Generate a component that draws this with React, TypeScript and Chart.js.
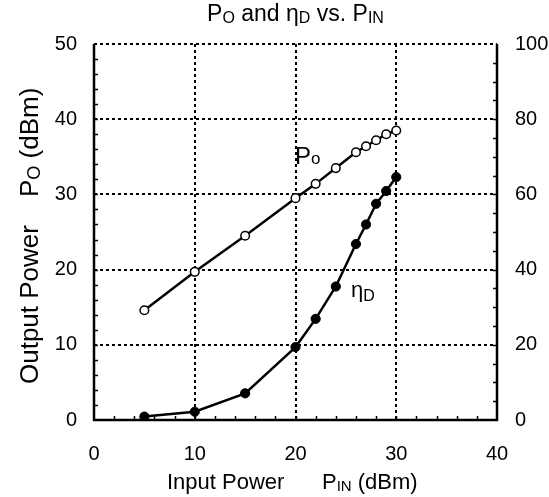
import React, { useEffect, useRef } from "react";
import { Chart, registerables } from "chart.js";

Chart.register(...registerables);

const inputPower = [5, 10, 15, 20, 22, 24, 26, 27, 28, 29, 30];
const outputPower = [14.6, 19.7, 24.5, 29.5, 31.4, 33.5, 35.6, 36.4, 37.2, 38.0, 38.5];
const drainEff = [0.9, 2.2, 7.1, 19.4, 26.9, 35.5, 46.8, 52.0, 57.5, 60.9, 64.6];

const xTicks = [0, 10, 20, 30, 40];
const yTicks = [0, 10, 20, 30, 40, 50];
const y1Ticks = [0, 20, 40, 60, 80, 100];

const FONT = '"Liberation Sans", Arial, sans-serif';

type Part = { t: string; sub?: boolean };

function richWidth(ctx: CanvasRenderingContext2D, parts: Part[], size: number, subSize: number) {
  let w = 0;
  for (const p of parts) {
    ctx.font = `${p.sub ? subSize : size}px ${FONT}`;
    w += ctx.measureText(p.t).width;
  }
  return w;
}

function drawRich(ctx: CanvasRenderingContext2D, parts: Part[], x: number, y: number, size: number, subSize: number, drop: number) {
  let cx = x;
  ctx.textAlign = "left";
  ctx.textBaseline = "alphabetic";
  for (const p of parts) {
    ctx.font = `${p.sub ? subSize : size}px ${FONT}`;
    ctx.fillText(p.t, cx, y + (p.sub ? drop : 0));
    cx += ctx.measureText(p.t).width;
  }
}

const decoPlugin = {
  id: "deco",
  beforeDatasetsDraw(chart: any) {
    const ctx: CanvasRenderingContext2D = chart.ctx;
    const { left, right, top, bottom } = chart.chartArea;
    const xs = chart.scales.x;
    const ys = chart.scales.y;
    ctx.save();
    ctx.strokeStyle = "#000";
    ctx.lineWidth = 2;
    ctx.setLineDash([3, 3]);
    for (const v of [10, 20, 30]) {
      const px = Math.round(xs.getPixelForValue(v));
      ctx.beginPath();
      ctx.moveTo(px, top);
      ctx.lineTo(px, bottom);
      ctx.stroke();
    }
    for (const v of [10, 20, 30, 40, 50]) {
      const py = Math.round(ys.getPixelForValue(v));
      ctx.beginPath();
      ctx.moveTo(left, py);
      ctx.lineTo(right, py);
      ctx.stroke();
    }
    ctx.restore();
  },
  afterDraw(chart: any) {
    const ctx: CanvasRenderingContext2D = chart.ctx;
    const { left, right, top, bottom } = chart.chartArea;
    const xs = chart.scales.x;
    const ys = chart.scales.y;
    const y1 = chart.scales.y1;
    ctx.save();
    ctx.strokeStyle = "#000";
    ctx.setLineDash([]);
    ctx.lineWidth = 2.5;
    ctx.beginPath();
    ctx.moveTo(left, top);
    ctx.lineTo(left, bottom);
    ctx.lineTo(right, bottom);
    ctx.lineTo(right, top);
    ctx.stroke();
    // minor ticks
    ctx.lineWidth = 1.5;
    const tl = 4;
    for (let v = 2; v < 40; v += 2) {
      const px = Math.round(xs.getPixelForValue(v)) + 0.5;
      ctx.beginPath();
      ctx.moveTo(px, bottom);
      ctx.lineTo(px, bottom - tl);
      ctx.stroke();
    }
    for (let v = 2; v < 50; v += 2) {
      const py = Math.round(ys.getPixelForValue(v)) + 0.5;
      ctx.beginPath();
      ctx.moveTo(left, py);
      ctx.lineTo(left + tl, py);
      ctx.stroke();
    }
    for (let v = 5; v < 100; v += 5) {
      const py = Math.round(y1.getPixelForValue(v)) + 0.5;
      ctx.beginPath();
      ctx.moveTo(right, py);
      ctx.lineTo(right - tl, py);
      ctx.stroke();
    }

    ctx.fillStyle = "#000";
    // Title
    const title: Part[] = [
      { t: "P" }, { t: "O", sub: true }, { t: " and η" }, { t: "D", sub: true },
      { t: " vs. P" }, { t: "IN", sub: true },
    ];
    const tw = richWidth(ctx, title, 23, 16);
    drawRich(ctx, title, (left + right) / 2 - tw / 2, 21, 23, 16, 2);

    // x axis title
    drawRich(ctx, [{ t: "Input Power" }], left + 73, 489, 22, 15, 2);
    drawRich(ctx, [{ t: "P" }, { t: "IN", sub: true }, { t: " (dBm)" }], left + 228, 489, 22, 15, 2);

    // y axis title (rotated)
    ctx.save();
    ctx.translate(38, 384);
    ctx.rotate(-Math.PI / 2);
    drawRich(ctx, [{ t: "Output Power" }], 0, 0, 26, 18, 2);
    drawRich(ctx, [{ t: "P" }, { t: "O", sub: true }, { t: " (dBm)" }], 187, 0, 26, 18, 2);
    ctx.restore();

    // series labels
    drawRich(ctx, [{ t: "P" }, { t: "o", sub: true }], xs.getPixelForValue(19.95), ys.getPixelForValue(34.1), 24, 17, 0);
    drawRich(ctx, [{ t: "η" }, { t: "D", sub: true }], xs.getPixelForValue(25.5), ys.getPixelForValue(16.3), 22, 16, 4);
    ctx.restore();
  },
};

export default function App() {
  const ref = useRef<HTMLCanvasElement | null>(null);
  useEffect(() => {
    if (!ref.current) return;
    const chart = new Chart(ref.current, {
      type: "line",
      data: {
        datasets: [
          {
            label: "Po",
            data: inputPower.map((x, i) => ({ x, y: outputPower[i] })),
            yAxisID: "y",
            borderColor: "#000",
            borderWidth: 2.5,
            pointRadius: 4.3,
            pointBorderWidth: 1.5,
            pointBackgroundColor: "#fff",
            pointBorderColor: "#000",
            tension: 0,
          },
          {
            label: "ηD",
            data: inputPower.map((x, i) => ({ x, y: drainEff[i] })),
            yAxisID: "y1",
            borderColor: "#000",
            borderWidth: 2.5,
            pointRadius: 4.6,
            pointBorderWidth: 1,
            pointBackgroundColor: "#000",
            pointBorderColor: "#000",
            tension: 0,
          },
        ],
      },
      options: {
        responsive: false,
        animation: false,
        devicePixelRatio: 1,
        layout: { padding: { top: 44, left: 0, right: 0, bottom: 0 } },
        plugins: { legend: { display: false }, tooltip: { enabled: false }, title: { display: false } },
        scales: {
          x: {
            type: "linear",
            min: 0,
            max: 40,
            afterBuildTicks: (s: any) => { s.ticks = xTicks.map((v) => ({ value: v })); },
            afterFit: (s: any) => { s.height = 77; },
            grid: { display: false, drawTicks: false },
            border: { display: false },
            ticks: { color: "#000", font: { family: FONT, size: 20 }, padding: 22, maxRotation: 0 },
          },
          y: {
            type: "linear",
            position: "left",
            min: 0,
            max: 50,
            afterBuildTicks: (s: any) => { s.ticks = yTicks.map((v) => ({ value: v })); },
            afterFit: (s: any) => { s.width = 94; },
            grid: { display: false, drawTicks: false },
            border: { display: false },
            ticks: { color: "#000", font: { family: FONT, size: 20 }, padding: 17 },
          },
          y1: {
            type: "linear",
            position: "right",
            min: 0,
            max: 100,
            afterBuildTicks: (s: any) => { s.ticks = y1Ticks.map((v) => ({ value: v })); },
            afterFit: (s: any) => { s.width = 52; },
            grid: { display: false, drawTicks: false },
            border: { display: false },
            ticks: { color: "#000", font: { family: FONT, size: 20 }, padding: 18 },
          },
        },
      },
      plugins: [decoPlugin],
    } as any);
    return () => chart.destroy();
  }, []);
  return (
    <div style={{ position: "fixed", left: 0, top: 0, width: 549, height: 497, background: "#fff" }}>
      <canvas ref={ref} width={549} height={497} style={{ display: "block" }} />
    </div>
  );
}
